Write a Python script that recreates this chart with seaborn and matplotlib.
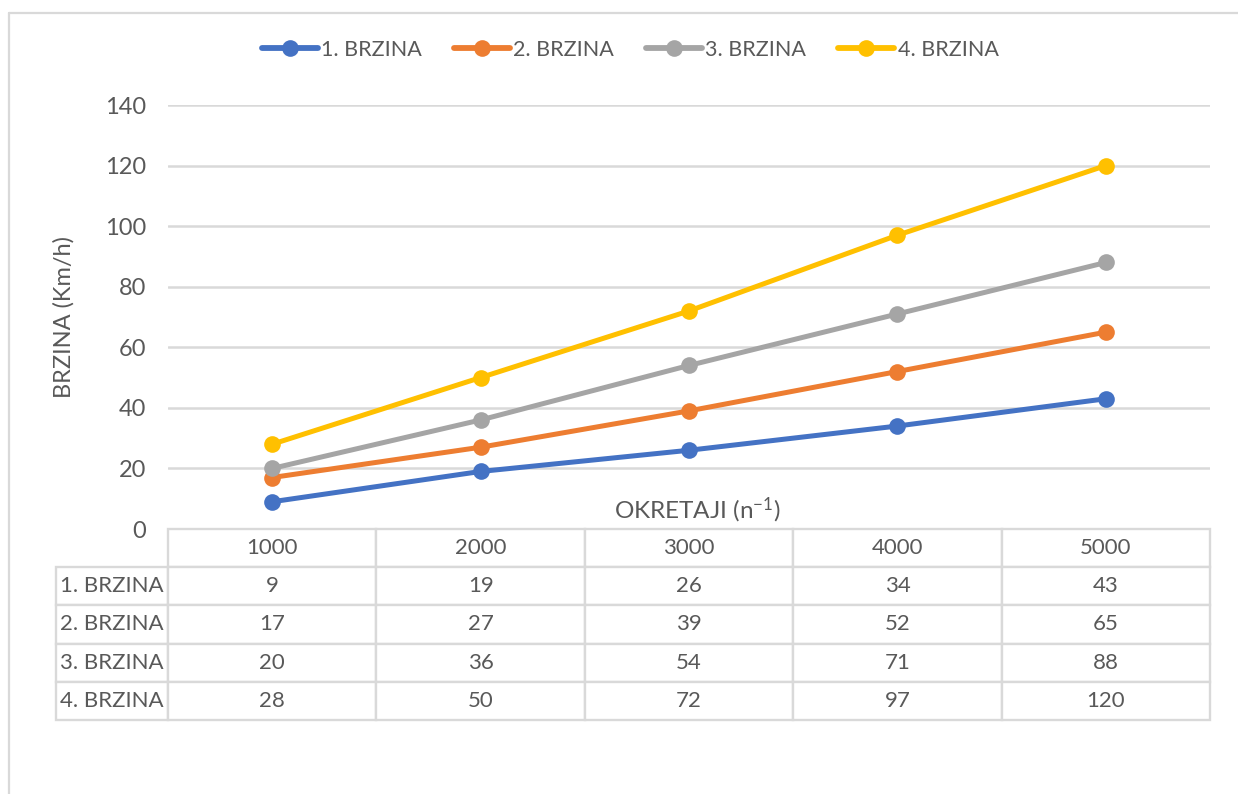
import matplotlib
matplotlib.use("Agg")
import matplotlib.pyplot as plt
from matplotlib.lines import Line2D
import seaborn as sns
import pandas as pd

# ---- data ----
rpm = [1000, 2000, 3000, 4000, 5000]
series_names = ["1. BRZINA", "2. BRZINA", "3. BRZINA", "4. BRZINA"]
brzina_1 = [9, 19, 26, 34, 43]
brzina_2 = [17, 27, 39, 52, 65]
brzina_3 = [20, 36, 54, 71, 88]
brzina_4 = [28, 50, 72, 97, 120]
y_ticks = [0, 20, 40, 60, 80, 100, 120, 140]
y_label = "BRZINA (Km/h)"
x_label = r"OKRETAJI (n$^{-1}$)"

colors = ["#4472C4", "#ED7D31", "#A5A5A5", "#FFC000"]
text_color = "#595959"
grid_color = "#D9D9D9"

values = [brzina_1, brzina_2, brzina_3, brzina_4]
df = pd.DataFrame(
    [(r, name, v) for name, vals in zip(series_names, values) for r, v in zip(rpm, vals)],
    columns=["rpm", "serija", "brzina"],
)

sns.set_theme(style="white")
plt.rcParams["font.family"] = ["Lato", "DejaVu Sans"]
plt.rcParams["mathtext.default"] = "regular"

W, H = 1238, 794
fig = plt.figure(figsize=(W / 100, H / 100), dpi=100)
left_px, right_px, top_px, bottom_px = 168, 1210, 105, 529
axw = right_px - left_px
axh = bottom_px - top_px
ax = fig.add_axes([left_px / W, 1 - bottom_px / H, axw / W, axh / H])

LW, MS = 3.6, 12
sns.lineplot(
    data=df, x="rpm", y="brzina", hue="serija", palette=colors,
    marker="o", markersize=MS, markeredgewidth=0, linewidth=LW,
    legend=False, ax=ax, zorder=3,
)

ax.set_xlim(500, 5500)
ax.set_ylim(0, 140)
ax.set_yticks(y_ticks)
ax.set_xticks([])
ax.set_xlabel("")
ax.set_ylabel(y_label, fontsize=17, color=text_color)
ax.yaxis.set_label_coords((75 - left_px) / axw, 0.5)
ax.tick_params(axis="y", length=0, pad=16, labelsize=17, labelcolor=text_color)
ax.yaxis.grid(True, color=grid_color, linewidth=1.8)
ax.set_axisbelow(True)
for s in ax.spines.values():
    s.set_visible(False)

ax.text(0.5 + (697 - 689) / axw, (bottom_px - 510) / axh, x_label, transform=ax.transAxes,
        ha="center", va="center", fontsize=17.5, color=text_color)

# ---- data table (row-label column built into the cells) ----
cell_text = [[name] + [str(v) for v in vals] for name, vals in zip(series_names, values)]
col_labels = [""] + [str(r) for r in rpm]
tbl_left_px, tbl_bottom_px = 56, 720
tbl = ax.table(
    cellText=cell_text, colLabels=col_labels, cellLoc="center", colLoc="center",
    bbox=[(tbl_left_px - left_px) / axw, -(tbl_bottom_px - bottom_px) / axh,
          (right_px - tbl_left_px) / axw, (tbl_bottom_px - bottom_px) / axh],
)
tbl.auto_set_font_size(False)
for (r, c), cell in tbl.get_celld().items():
    cell.set_width(112 if c == 0 else 208.4)
    cell.set_edgecolor(grid_color)
    cell.set_linewidth(1.7)
    cell.set_facecolor("white")
    cell.get_text().set_fontsize(16)
    cell.get_text().set_color(text_color)
    if r == 0 and c == 0:
        cell.visible_edges = ""
        cell.set_facecolor("none")

# ---- legend ----
handles = [Line2D([], [], color=c, linewidth=LW + 0.6, marker="o", markersize=MS, markeredgewidth=0)
           for c in colors]
fig.legend(handles, series_names, loc="center", bbox_to_anchor=(630 / W, 1 - 50 / H),
           ncol=4, frameon=False, fontsize=15.5, labelcolor=text_color,
           handlelength=2.6, handletextpad=0.15, columnspacing=1.5)

# ---- outer chart border ----
fig.add_artist(Line2D([9 / W, 9 / W], [0, 1 - 13 / H], transform=fig.transFigure, color=grid_color, linewidth=1.6))
fig.add_artist(Line2D([9 / W, 1], [1 - 13 / H, 1 - 13 / H], transform=fig.transFigure, color=grid_color, linewidth=1.6))

fig.savefig("out.png", dpi=100, facecolor="white")
